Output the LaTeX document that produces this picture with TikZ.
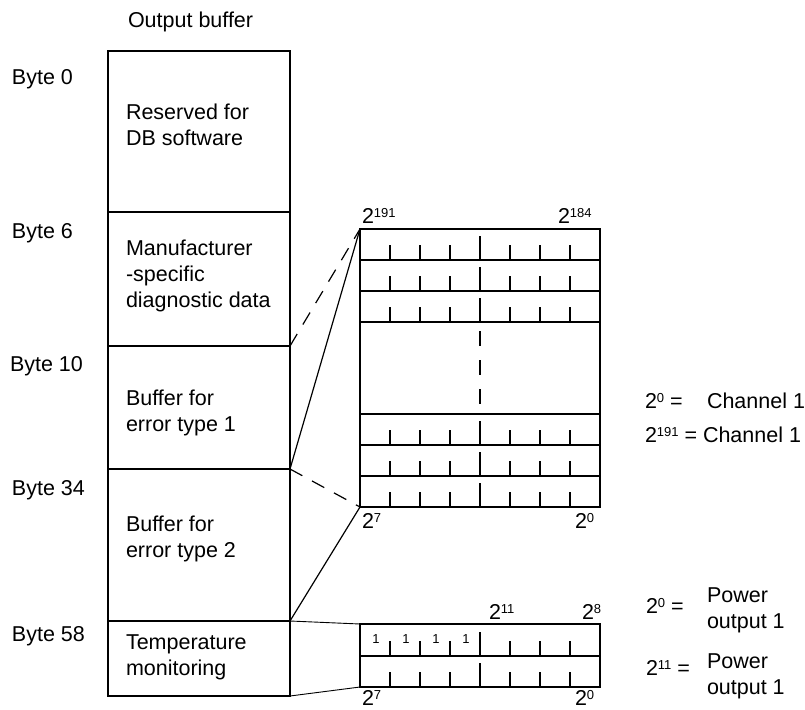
\documentclass[tikz,border=0pt]{standalone}
\usepackage{fontspec}
\setmainfont{Liberation Sans}
\newcommand\mainsize{\fontsize{21.5}{26}\selectfont}
\newcommand\smallsize{\fontsize{13}{13}\selectfont}
% power of two with raised exponent
\newcommand\pw[1]{2\raisebox{5.8pt}{\smallsize #1}}
\newcommand\block[1]{\parbox[t]{175pt}{\raggedright #1}}
\tikzset{
  lbl/.style={anchor=base west, inner sep=0pt, outer sep=0pt, font=\mainsize},
  bitlbl/.style={anchor=base, inner sep=0pt, outer sep=0pt, font=\smallsize},
  cell/.style={draw, line width=1.8pt, inner sep=0pt, outer sep=0pt,
               anchor=north west, minimum width=182pt},
  regtab/.style={draw, line width=1.8pt, inner sep=0pt, outer sep=0pt,
               anchor=north west, minimum width=240pt},
  rowline/.style={line width=1.8pt},
  tick/.style={line width=1.5pt},
  link/.style={line width=1.2pt},
  dlink/.style={line width=1.2pt, dash pattern=on 14pt off 11pt},
  thinlink/.style={line width=0.9pt}
}
\begin{document}
\begin{tikzpicture}[x=1pt, y=-1pt]
\useasboundingbox (0,0) rectangle (805,709);

% output buffer column
\node[lbl] (title) at (128,28) {Output buffer};
\node[cell, minimum height=161pt] (rsv)  at (108,51)  {};
\node[cell, minimum height=134pt] (mfr)  at (108,212) {};
\node[cell, minimum height=123pt] (err1) at (108,346) {};
\node[cell, minimum height=152pt] (err2) at (108,469) {};
\node[cell, minimum height=75pt]  (temp) at (108,621) {};

\node[lbl] (trsv)  at (126,119) {\block{Reserved for\\DB software}};
\node[lbl] (tmfr)  at (126,255) {\block{Manufacturer\\-specific\\diagnostic data}};
\node[lbl] (terr1) at (126,405) {\block{Buffer for\\error type 1}};
\node[lbl] (terr2) at (126,531) {\block{Buffer for\\error type 2}};
\node[lbl] (ttemp) at (126,649) {\block{Temperature\\monitoring}};

% byte offsets
\node[lbl] (b0)  at (12,84)  {Byte 0};
\node[lbl] (b6)  at (12,238) {Byte 6};
\node[lbl] (b10) at (10,371) {Byte 10};
\node[lbl] (b34) at (12,495) {Byte 34};
\node[lbl] (b58) at (12,641) {Byte 58};

% diagnostic bit table
\node[regtab, minimum height=278pt] (tbl) at (360,229) {};
\foreach \yb in {260,291,322,414,445,476}
  \draw[rowline] (360,\yb) -- (600,\yb);
\foreach \yb in {260,291,322,445,476,507} {
  \foreach \xx in {390,420,450,510,540,570}
    \draw[tick] (\xx,\yb) -- ++(0,-15);
  \draw[tick] (480,\yb) -- ++(0,-24);
}
\draw[tick, dash pattern=on 15pt off 14pt] (480,331) -- (480,406);

\node[lbl] (t191) at (362,223) {\pw{191}};
\node[lbl] (t184) at (558,223) {\pw{184}};
\node[lbl] (t7)   at (362,528) {\pw{7}};
\node[lbl] (t0)   at (575,528) {\pw{0}};

% temperature bit table
\node[regtab, minimum height=63pt] (low) at (360,624) {};
\draw[rowline] (360,656) -- (600,656);
\foreach \yb in {656,687} {
  \foreach \xx in {390,420,450,510,540,570}
    \draw[tick] (\xx,\yb) -- ++(0,-15);
  \draw[tick] (480,\yb) -- ++(0,-24);
}
\foreach \xx [count=\i] in {376,406,436,466}
  \node[bitlbl] (one\i) at (\xx,643) {1};

\node[lbl] (l11) at (489,619) {\pw{11}};
\node[lbl] (l8)  at (582,619) {\pw{8}};
\node[lbl] (l7)  at (362,705) {\pw{7}};
\node[lbl] (l0)  at (575,705) {\pw{0}};

% legend
\node[lbl] (c0)   at (645,408) {\pw{0} =};
\node[lbl] (c0t)  at (707,408) {Channel 1};
\node[lbl] (c191) at (645,442) {\pw{191} =};
\node[lbl] (c191t) at (703,442) {Channel 1};

\node[lbl] (p0)   at (646,613) {\pw{0} =};
\node[lbl] (p0t)  at (707,602) {\block{Power\\output 1}};
\node[lbl] (p11)  at (646,675) {\pw{11} =};
\node[lbl] (p11t) at (707,668) {\block{Power\\output 1}};

% expansion lines
\draw[dlink] (mfr.south east) -- (tbl.north west);
\draw[link]  (err1.south east) -- (tbl.north west);
\draw[dlink] (err1.south east) -- (tbl.south west);
\draw[link]  (tbl.south west) -- (err2.south east);
\draw[thinlink] (temp.north east) -- (low.north west);
\draw[thinlink] (temp.south east) -- (low.south west);
\end{tikzpicture}
\end{document}
